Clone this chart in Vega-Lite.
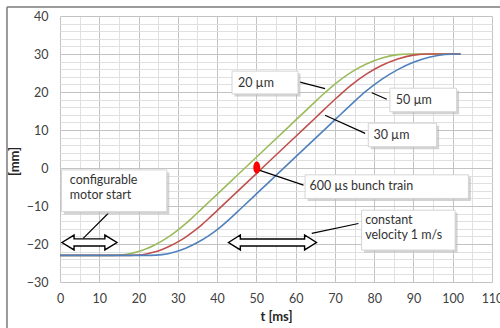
{
  "$schema": "https://vega.github.io/schema/vega-lite/v6.json",
  "width": 432,
  "height": 266,
  "autosize": {"type": "none"},
  "padding": {"left": 60, "top": 16, "right": 8, "bottom": 46},
  "background": "white",
  "config": {"view": {"stroke": null}, "font": "Lato"},
  "datasets": {
    "curves": [
      {"series": "20 µm", "t": 0, "y": -23}, {"series": "20 µm", "t": 13.5, "y": -23}, {"series": "20 µm", "t": 16, "y": -22.85}, {"series": "20 µm", "t": 18, "y": -22.51}, {"series": "20 µm", "t": 20, "y": -21.97}, {"series": "20 µm", "t": 22, "y": -21.24}, {"series": "20 µm", "t": 24, "y": -20.31}, {"series": "20 µm", "t": 26, "y": -19.19}, {"series": "20 µm", "t": 28, "y": -17.88}, {"series": "20 µm", "t": 30, "y": -16.36}, {"series": "20 µm", "t": 32, "y": -14.66}, {"series": "20 µm", "t": 33.5, "y": -13.25}, {"series": "20 µm", "t": 36, "y": -10.82}, {"series": "20 µm", "t": 40, "y": -6.92}, {"series": "20 µm", "t": 45, "y": -2.05}, {"series": "20 µm", "t": 50, "y": 2.83}, {"series": "20 µm", "t": 55, "y": 7.7}, {"series": "20 µm", "t": 60, "y": 12.58}, {"series": "20 µm", "t": 64, "y": 16.48}, {"series": "20 µm", "t": 66.8, "y": 19.21}, {"series": "20 µm", "t": 70, "y": 22.1}, {"series": "20 µm", "t": 74, "y": 25.09}, {"series": "20 µm", "t": 78, "y": 27.37}, {"series": "20 µm", "t": 82, "y": 28.96}, {"series": "20 µm", "t": 86, "y": 29.83}, {"series": "20 µm", "t": 89, "y": 30}, {"series": "20 µm", "t": 95, "y": 30}, {"series": "20 µm", "t": 102, "y": 30},
      {"series": "50 µm", "t": 0, "y": -23}, {"series": "50 µm", "t": 18, "y": -23}, {"series": "50 µm", "t": 20, "y": -22.9}, {"series": "50 µm", "t": 22, "y": -22.61}, {"series": "50 µm", "t": 24, "y": -22.11}, {"series": "50 µm", "t": 26, "y": -21.42}, {"series": "50 µm", "t": 28, "y": -20.54}, {"series": "50 µm", "t": 30, "y": -19.45}, {"series": "50 µm", "t": 32, "y": -18.17}, {"series": "50 µm", "t": 34, "y": -16.7}, {"series": "50 µm", "t": 36, "y": -15.02}, {"series": "50 µm", "t": 37.8, "y": -13.36}, {"series": "50 µm", "t": 40, "y": -11.21}, {"series": "50 µm", "t": 45, "y": -6.34}, {"series": "50 µm", "t": 50, "y": -1.46}, {"series": "50 µm", "t": 55, "y": 3.41}, {"series": "50 µm", "t": 60, "y": 8.29}, {"series": "50 µm", "t": 65, "y": 13.16}, {"series": "50 µm", "t": 70.6, "y": 18.62}, {"series": "50 µm", "t": 74, "y": 21.7}, {"series": "50 µm", "t": 78, "y": 24.7}, {"series": "50 µm", "t": 82, "y": 27.03}, {"series": "50 µm", "t": 86, "y": 28.7}, {"series": "50 µm", "t": 90, "y": 29.7}, {"series": "50 µm", "t": 94, "y": 30}, {"series": "50 µm", "t": 98, "y": 30}, {"series": "50 µm", "t": 102, "y": 30},
      {"series": "30 µm", "t": 0, "y": -23}, {"series": "30 µm", "t": 23, "y": -23}, {"series": "30 µm", "t": 26, "y": -22.79}, {"series": "30 µm", "t": 29, "y": -22.16}, {"series": "30 µm", "t": 32, "y": -21.1}, {"series": "30 µm", "t": 35, "y": -19.62}, {"series": "30 µm", "t": 38, "y": -17.73}, {"series": "30 µm", "t": 41, "y": -15.41}, {"series": "30 µm", "t": 43.8, "y": -12.87}, {"series": "30 µm", "t": 46, "y": -10.73}, {"series": "30 µm", "t": 50, "y": -6.83}, {"series": "30 µm", "t": 55, "y": -1.95}, {"series": "30 µm", "t": 60, "y": 2.93}, {"series": "30 µm", "t": 65, "y": 7.8}, {"series": "30 µm", "t": 70, "y": 12.68}, {"series": "30 µm", "t": 74.6, "y": 17.16}, {"series": "30 µm", "t": 78, "y": 20.27}, {"series": "30 µm", "t": 82, "y": 23.37}, {"series": "30 µm", "t": 86, "y": 25.88}, {"series": "30 µm", "t": 90, "y": 27.8}, {"series": "30 µm", "t": 94, "y": 29.13}, {"series": "30 µm", "t": 98, "y": 29.87}, {"series": "30 µm", "t": 101, "y": 30}, {"series": "30 µm", "t": 102, "y": 30}
    ],
    "boxes": [
      {"t": 43.8, "t2": 60.6, "y": 25.5, "y2": 19.5},
      {"t": 84.0, "t2": 101.0, "y": 21.0, "y2": 14.8},
      {"t": 78.5, "t2": 95.9, "y": 11.8, "y2": 5.6},
      {"t": 62.4, "t2": 104.0, "y": -1.8, "y2": -8.0},
      {"t": 76.8, "t2": 100.6, "y": -11.1, "y2": -21.6},
      {"t": 0.4, "t2": 27.2, "y": -0.5, "y2": -11.5}
    ],
    "labels": [
      {"t": 45.3, "y": 22.4, "label": "20 µm"},
      {"t": 85.5, "y": 18.0, "label": "50 µm"},
      {"t": 79.8, "y": 8.8, "label": "30 µm"},
      {"t": 63.5, "y": -4.8, "label": "600 µs bunch train"},
      {"t": 77.7, "y": -13.7, "label": "constant"},
      {"t": 77.7, "y": -17.6, "label": "velocity 1 m/s"},
      {"t": 2.5, "y": -3.2, "label": "configurable"},
      {"t": 2.5, "y": -7.1, "label": "motor start"}
    ],
    "leaders": [
      {"t": 61.1, "y": 22.6, "t2": 67.5, "y2": 20.9},
      {"t": 79.4, "y": 19.8, "t2": 83.2, "y2": 18.1},
      {"t": 67.5, "y": 13.9, "t2": 77.7, "y2": 9.1},
      {"t": 50.5, "y": -0.5, "t2": 62.0, "y2": -4.5},
      {"t": 64.1, "y": -17.2, "t2": 76.0, "y2": -14.6},
      {"t": 12.3, "y": -11.9, "t2": 5.9, "y2": -18.5}
    ],
    "arrowA": [{"t": 7.5, "y": -19.6}],
    "arrowB": [{"t": 54.1, "y": -19.6}],
    "dot": [{"t": 50.1, "y": 0.1}],
    "frame": [
      {"t": -13.5, "y": -50, "t2": -13.5, "y2": 42.4},
      {"t": -13.5, "y": 42.4, "t2": 130, "y2": 42.4}
    ]
  },
  "encoding": {
    "x": {
      "field": "t",
      "type": "quantitative",
      "scale": {"domain": [0, 110], "nice": false, "zero": false},
      "axis": {
        "title": "t [ms]",
        "values": [0, 5, 10, 15, 20, 25, 30, 35, 40, 45, 50, 55, 60, 65, 70, 75, 80, 85, 90, 95, 100, 105, 110],
        "labelExpr": "datum.value % 10 === 0 ? datum.label : ''",
        "labelOverlap": false,
        "labelFlush": false,
        "grid": true,
        "gridColor": {"condition": {"test": "datum.value % 10 === 0", "value": "#c3c3c3"}, "value": "#e0e0e0"},
        "gridWidth": 1,
        "ticks": false,
        "domain": false,
        "labelPadding": 10,
        "labelFont": "Lato",
        "labelFontSize": 12.5,
        "labelColor": "#404040",
        "titleFont": "Lato",
        "titleFontSize": 13,
        "titleFontWeight": "bold",
        "titleColor": "#262626",
        "titlePadding": 6
      }
    },
    "y": {
      "field": "y",
      "type": "quantitative",
      "scale": {"domain": [-30, 40], "nice": false, "zero": false},
      "axis": {
        "title": "[mm]",
        "values": [-30, -28, -26, -24, -22, -20, -18, -16, -14, -12, -10, -8, -6, -4, -2, 0, 2, 4, 6, 8, 10, 12, 14, 16, 18, 20, 22, 24, 26, 28, 30, 32, 34, 36, 38, 40],
        "labelExpr": "datum.value % 10 === 0 ? datum.label : ''",
        "labelOverlap": false,
        "labelFlush": false,
        "grid": true,
        "gridColor": {"condition": {"test": "datum.value % 10 === 0", "value": "#c3c3c3"}, "value": "#e0e0e0"},
        "gridWidth": 1,
        "ticks": false,
        "domain": false,
        "labelPadding": 12,
        "labelFont": "Lato",
        "labelFontSize": 12.5,
        "labelColor": "#404040",
        "titleFont": "Lato",
        "titleFontSize": 13,
        "titleFontWeight": "bold",
        "titleColor": "#262626",
        "titlePadding": 5,
        "titleY": 145
      }
    }
  },
  "layer": [
    {
      "data": {"name": "curves"},
      "mark": {"type": "line", "strokeWidth": 1.6, "interpolate": "monotone"},
      "encoding": {
        "color": {
          "field": "series",
          "type": "nominal",
          "scale": {"domain": ["20 µm", "50 µm", "30 µm"], "range": ["#9bbb59", "#c0504d", "#4f81bd"]},
          "legend": null
        }
      }
    },
    {
      "data": {"name": "leaders"},
      "mark": {"type": "rule", "color": "#000000", "strokeWidth": 1.2},
      "encoding": {"x2": {"field": "t2"}, "y2": {"field": "y2"}}
    },
    {
      "data": {"name": "boxes"},
      "mark": {"type": "rect", "fill": "#b5b5b5", "opacity": 0.6, "xOffset": 2.5, "x2Offset": 2.5, "yOffset": 2.5, "y2Offset": 2.5},
      "encoding": {"x2": {"field": "t2"}, "y2": {"field": "y2"}}
    },
    {
      "data": {"name": "boxes"},
      "mark": {"type": "rect", "fill": "#ffffff", "stroke": "#d4d4d4", "strokeWidth": 1},
      "encoding": {"x2": {"field": "t2"}, "y2": {"field": "y2"}}
    },
    {
      "data": {"name": "labels"},
      "mark": {"type": "text", "align": "left", "baseline": "middle", "font": "Lato", "fontSize": 12.5, "color": "#333333"},
      "encoding": {"text": {"field": "label"}}
    },
    {
      "data": {"name": "arrowA"},
      "mark": {"type": "point", "shape": "M-1,0 L-0.56,-0.27 L-0.56,-0.13 L0.56,-0.13 L0.56,-0.27 L1,0 L0.56,0.27 L0.56,0.13 L-0.56,0.13 L-0.56,0.27 Z", "size": 3025, "filled": true, "fill": "#ffffff", "stroke": "#000000", "strokeWidth": 1.4, "opacity": 1}
    },
    {
      "data": {"name": "arrowB"},
      "mark": {"type": "point", "shape": "M-1,0 L-0.73,-0.17 L-0.73,-0.08 L0.73,-0.08 L0.73,-0.17 L1,0 L0.73,0.17 L0.73,0.08 L-0.73,0.08 L-0.73,0.17 Z", "size": 7744, "filled": true, "fill": "#ffffff", "stroke": "#000000", "strokeWidth": 1.4, "opacity": 1}
    },
    {
      "data": {"name": "dot"},
      "mark": {"type": "point", "shape": "M0,-1 A0.58,1 0 1,1 0,1 A0.58,1 0 1,1 0,-1 Z", "size": 144, "filled": true, "fill": "#ff0000", "stroke": null, "opacity": 1}
    },
    {
      "data": {"name": "frame"},
      "mark": {"type": "rule", "color": "#7a7a7a", "strokeWidth": 1.5},
      "encoding": {"x2": {"field": "t2"}, "y2": {"field": "y2"}}
    }
  ]
}
